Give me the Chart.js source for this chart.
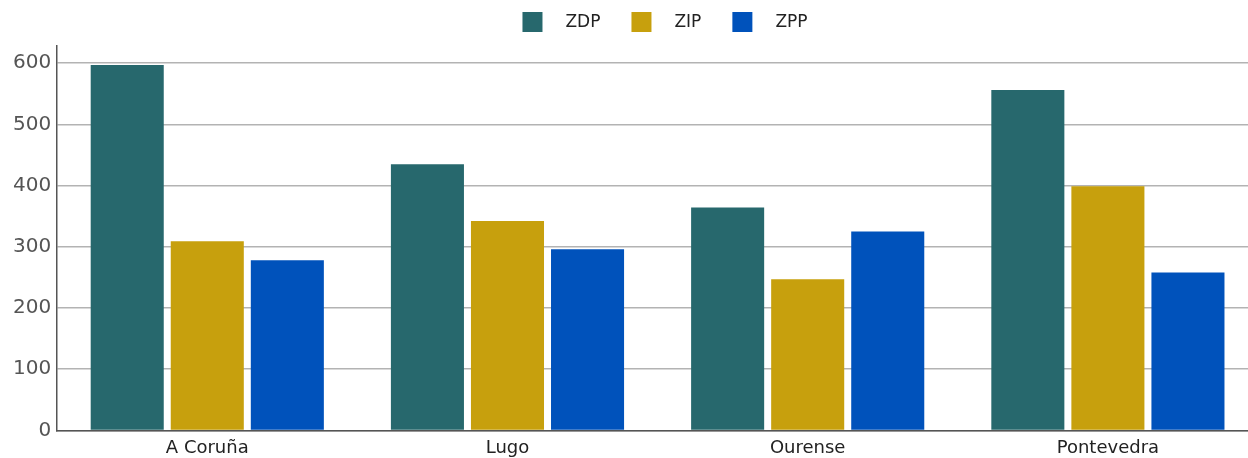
<!DOCTYPE html>
<html>
<head>
<meta charset="utf-8">
<script src="https://cdn.jsdelivr.net/npm/chart.js@4"></script>
<style>
html,body{margin:0;padding:0;background:#fff;overflow:hidden;}
#wrap{width:1248px;height:458px;position:relative;overflow:hidden;}
#c{position:absolute;left:0;top:0;}
</style>
</head>
<body>
<div id="wrap"><canvas id="c" width="1258" height="458" style="width:1258px;height:458px"></canvas></div>
<script>
const categories = ["A Coruña", "Lugo", "Ourense", "Pontevedra"];
const seriesNames = ["ZDP", "ZIP", "ZPP"];
const zdp = [597, 435, 364, 556];
const zip = [309, 342, 247, 399];
const zpp = [278, 296, 325, 258];
const yTicks = [0, 100, 200, 300, 400, 500, 600];
const colors = ["#27686d", "#c7a00d", "#0052bb"];

const FONT = "'DejaVu Sans', Verdana, sans-serif";
Chart.defaults.font.family = FONT;
Chart.defaults.animation = false;

const topLegend = {
  id: 'topLegend',
  afterDraw(chart) {
    const ctx = chart.ctx;
    ctx.save();
    ctx.font = "17px " + FONT;
    ctx.textBaseline = 'middle';
    const box = 20, gapText = 23, gapItem = 31;
    const items = chart.data.datasets.map(ds => ({ text: ds.label, color: ds.backgroundColor, w: ctx.measureText(ds.label).width }));
    let total = 0;
    items.forEach((it, i) => { total += box + gapText + it.w + (i < items.length - 1 ? gapItem : 0); });
    let x = 665 - total / 2;
    const cy = 22;
    items.forEach(it => {
      ctx.fillStyle = it.color;
      ctx.fillRect(x, cy - box / 2, box, box);
      ctx.fillStyle = '#222';
      ctx.fillText(it.text, x + box + gapText, cy + 1);
      x += box + gapText + it.w + gapItem;
    });
    ctx.restore();
  }
};

new Chart(document.getElementById('c'), {
  type: 'bar',
  data: {
    labels: categories,
    datasets: [zdp, zip, zpp].map((d, i) => ({
      label: seriesNames[i],
      data: d,
      backgroundColor: colors[i],
      borderWidth: 0,
      categoryPercentage: 0.8,
      barPercentage: 0.9125
    }))
  },
  plugins: [topLegend],
  options: {
    responsive: false,
    maintainAspectRatio: false,
    layout: { padding: { left: 7, right: 0, top: 46, bottom: -8 } },
    plugins: {
      legend: { display: false },
      tooltip: { enabled: false }
    },
    scales: {
      x: {
        grid: { display: false, drawTicks: false },
        border: { color: '#555', width: 1.5 },
        ticks: { color: '#222', font: { size: 18 }, padding: 7 }
      },
      y: {
        min: 0, max: 628,
        afterBuildTicks: (axis) => { axis.ticks = yTicks.map(v => ({ value: v })); },
        ticks: { color: '#555', font: { size: 20 }, padding: 6 },
        grid: { color: '#b3b3b3', lineWidth: 1.5, drawTicks: false },
        border: { color: '#555', width: 1.5 }
      }
    }
  }
});
</script>
</body>
</html>
